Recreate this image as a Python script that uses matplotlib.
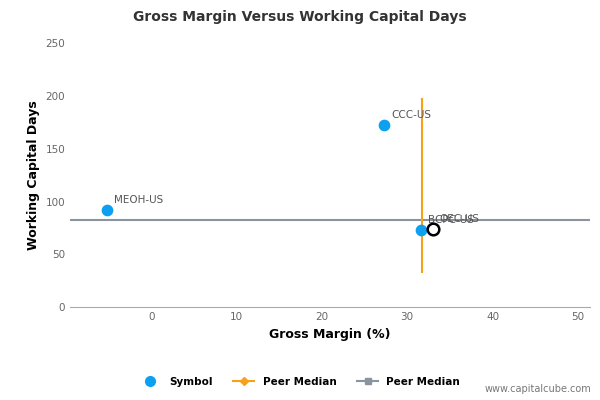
import matplotlib.pyplot as plt
from matplotlib.lines import Line2D

names = ["MEOH-US", "CCC-US", "BCPC-US"]
gm = [-5.2, 27.3, 31.6]
wcd = [92, 173, 73]
own_name = "OEC-US"
own_gm = 33.0
own_wcd = 74
median_gm = 31.7
median_wcd = 83

fig = plt.figure(figsize=(6, 4), dpi=100)
ax = fig.add_axes([0.117, 0.232, 0.866, 0.66])
ax.axhline(median_wcd, color="#8a93a0", lw=1.5, zorder=1)
ax.plot([median_gm, median_gm], [33, 197], color="#f7a11a", lw=1.5, zorder=2)
ax.scatter(gm, wcd, s=55, color="#0da0f0", zorder=3)
ax.scatter([own_gm], [own_wcd], s=70, facecolor="white", edgecolor="black", lw=1.8, zorder=4)
for n, x, y in zip(names + [own_name], gm + [own_gm], wcd + [own_wcd]):
    ax.annotate(n, (x, y), xytext=(5, 5), textcoords="offset points", fontsize=7.5, color="#555555")

ax.set_xlim(-9.5, 51.4)
ax.set_ylim(0, 250)
ax.set_xticks(range(0, 51, 10))
ax.set_yticks(range(0, 251, 50))
ax.tick_params(labelsize=7.5, colors="#666666", length=0)
for s in ["top", "right", "left"]:
    ax.spines[s].set_visible(False)
ax.spines["bottom"].set_color("#aaaaaa")
ax.set_xlabel("Gross Margin (%)", fontsize=9, fontweight="bold")
ax.set_ylabel("Working Capital Days", fontsize=9, fontweight="bold")
fig.suptitle("Gross Margin Versus Working Capital Days", fontsize=10, fontweight="bold", color="#333333", y=0.975)

handles = [
    Line2D([], [], marker="o", color="#0da0f0", ls="", markersize=7),
    Line2D([], [], marker="D", color="#f7a11a", markersize=4),
    Line2D([], [], marker="s", color="#8a93a0", markersize=5),
]
fig.legend(handles, ["Symbol", "Peer Median", "Peer Median"], loc="lower center",
           bbox_to_anchor=(0.5, 0.01), ncol=3, frameon=False,
           prop={"size": 7.5, "weight": "bold"})
fig.text(0.985, 0.02, "www.capitalcube.com", ha="right", fontsize=7, color="#777777")
fig.savefig("out.png")
